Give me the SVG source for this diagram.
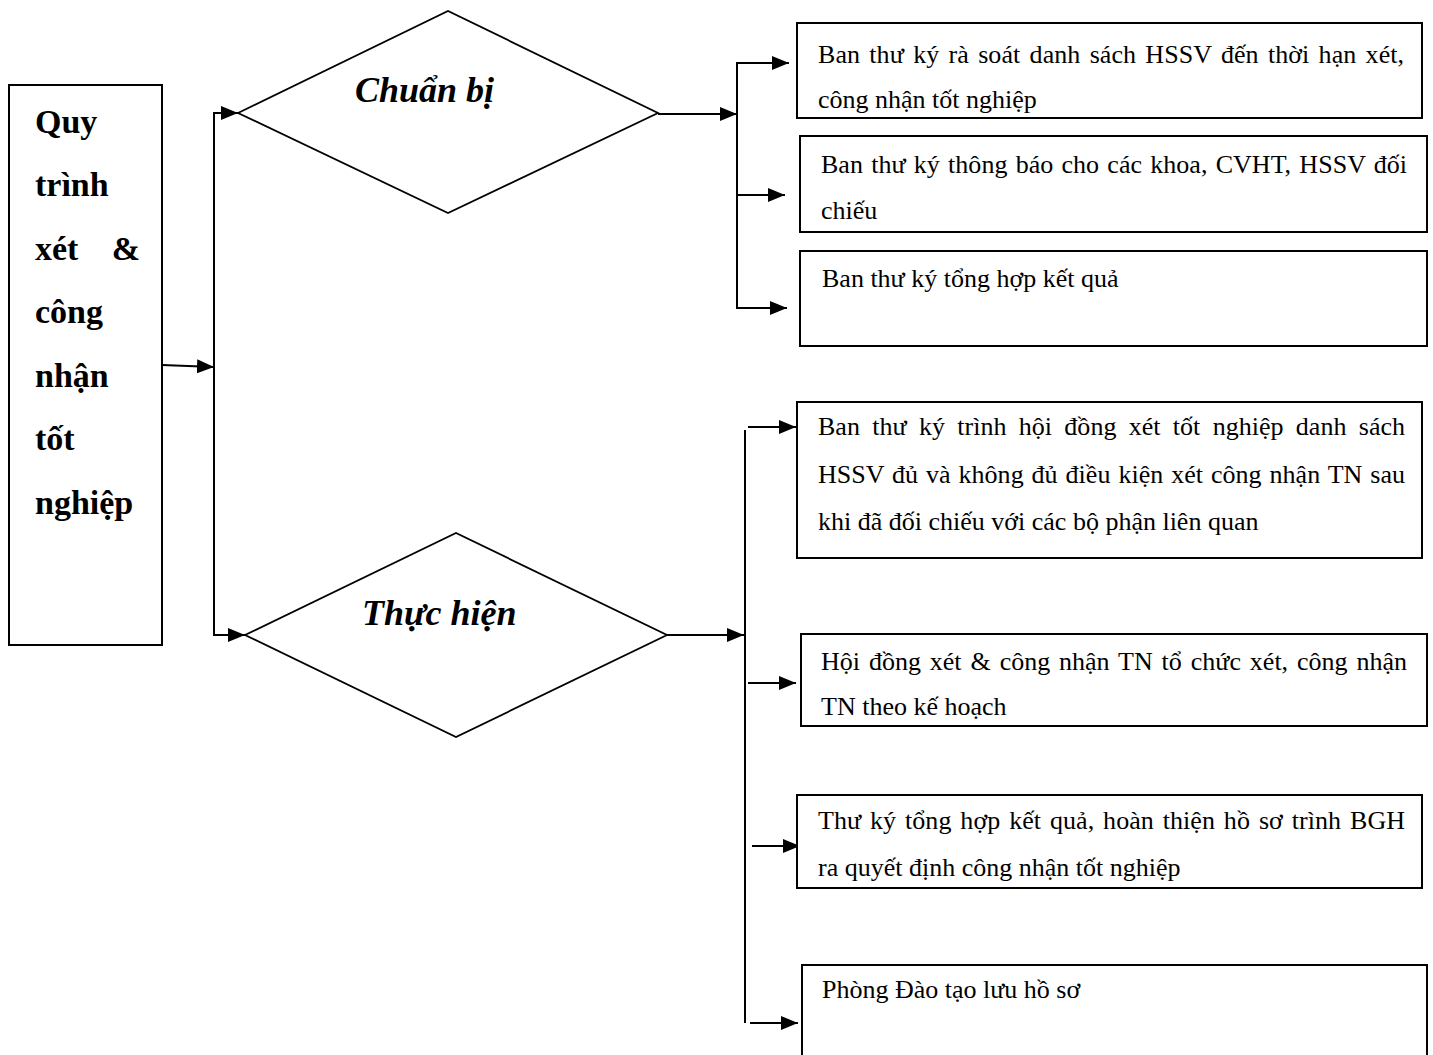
<svg xmlns="http://www.w3.org/2000/svg" width="1433" height="1055" viewBox="0 0 1433 1055">
<style>
.box{fill:#fff;stroke:#000;stroke-width:2}
.dia{fill:#fff;stroke:#000;stroke-width:1.8}
.t{font-family:"Liberation Serif","Times New Roman",serif;font-size:26px;fill:#000}
.lb{font-family:"Liberation Serif","Times New Roman",serif;font-size:34px;font-weight:bold;fill:#000}
.dt{font-family:"Liberation Serif","Times New Roman",serif;font-size:36px;font-weight:bold;font-style:italic;fill:#000}
.c{fill:none;stroke:#000;stroke-width:2}
</style>
<defs>
<marker id="ah" markerUnits="userSpaceOnUse" markerWidth="17" markerHeight="14" refX="17" refY="7" orient="auto">
<path d="M0,0 L17,7 L0,14 z" fill="#000"/>
</marker>
<clipPath id="cp1"><rect x="798" y="24" width="623" height="93"/></clipPath>
<clipPath id="cp6"><rect x="798" y="796" width="623" height="91"/></clipPath>
</defs>

<g id="connectors">
<path class="c" d="M162,365 L214,367" marker-end="url(#ah)"/>
<path class="c" d="M214,113 L214,635 L245,635" marker-end="url(#ah)"/>
<path class="c" d="M213,113 L238,113" marker-end="url(#ah)"/>
<path class="c" d="M658,114 L737,114" marker-end="url(#ah)"/>
<path class="c" d="M737,63 L737,308"/>
<path class="c" d="M736,63 L789,63" marker-end="url(#ah)"/>
<path class="c" d="M737,195 L785,195" marker-end="url(#ah)"/>
<path class="c" d="M736,308 L787,308" marker-end="url(#ah)"/>
<path class="c" d="M667,635 L744,635" marker-end="url(#ah)"/>
<path class="c" d="M745,430 L745,1023"/>
<path class="c" d="M748,427 L796,427" marker-end="url(#ah)"/>
<path class="c" d="M748,683 L796,683" marker-end="url(#ah)"/>
<path class="c" d="M752,846 L800,846" marker-end="url(#ah)"/>
<path class="c" d="M750,1023 L798,1023" marker-end="url(#ah)"/>
</g>

<g id="n-main">
<rect class="box" x="9" y="85" width="153" height="560"/>
<text class="lb" x="35" y="133">Quy</text>
<text class="lb" x="35" y="196">trình</text>
<text class="lb" y="260"><tspan x="35">xét</tspan><tspan x="140" text-anchor="end">&amp;</tspan></text>
<text class="lb" x="35" y="323">công</text>
<text class="lb" x="35" y="387">nhận</text>
<text class="lb" x="35" y="450">tốt</text>
<text class="lb" x="35" y="514">nghiệp</text>
</g>

<g id="n-chuanbi">
<polygon class="dia" points="238,113 448,11 658,113 448,213"/>
<text class="dt" x="355" y="102">Chuẩn bị</text>
</g>

<g id="n-thuchien">
<polygon class="dia" points="245,635 456,533 667,635 456,737"/>
<text class="dt" x="362" y="625">Thực hiện</text>
</g>

<g id="n-b1">
<rect class="box" x="797" y="23" width="625" height="95"/>
<g clip-path="url(#cp1)">
<text class="t" x="818" y="63" word-spacing="2.8" textLength="586" lengthAdjust="spacing">Ban thư ký rà soát danh sách HSSV đến thời hạn xét,</text>
<text class="t" x="818" y="108">công nhận tốt nghiệp</text>
</g>
</g>

<g id="n-b2">
<rect class="box" x="800" y="136" width="627" height="96"/>
<text class="t" x="821" y="173" word-spacing="1.7" textLength="586" lengthAdjust="spacing">Ban thư ký thông báo cho các khoa, CVHT, HSSV đối</text>
<text class="t" x="821" y="219">chiếu</text>
</g>

<g id="n-b3">
<rect class="box" x="800" y="251" width="627" height="95"/>
<text class="t" x="822" y="287">Ban thư ký tổng hợp kết quả</text>
</g>

<g id="n-b4">
<rect class="box" x="797" y="402" width="625" height="156"/>
<text class="t" x="818" y="435" word-spacing="5.8" textLength="587" lengthAdjust="spacing">Ban thư ký trình hội đồng xét tốt nghiệp danh sách</text>
<text class="t" x="818" y="483" word-spacing="1.45" textLength="587" lengthAdjust="spacing">HSSV đủ và không đủ điều kiện xét công nhận TN sau</text>
<text class="t" x="818" y="530">khi đã đối chiếu với các bộ phận liên quan</text>
</g>

<g id="n-b5">
<rect class="box" x="801" y="634" width="626" height="92"/>
<text class="t" x="821" y="670" word-spacing="2.4" textLength="586" lengthAdjust="spacing">Hội đồng xét &amp; công nhận TN tổ chức xét, công nhận</text>
<text class="t" x="821" y="715">TN theo kế hoạch</text>
</g>

<g id="n-b6">
<rect class="box" x="797" y="795" width="625" height="93"/>
<g clip-path="url(#cp6)">
<text class="t" x="818" y="829" word-spacing="2.4" textLength="587" lengthAdjust="spacing">Thư ký tổng hợp kết quả, hoàn thiện hồ sơ trình BGH</text>
<text class="t" x="818" y="876">ra quyết định công nhận tốt nghiệp</text>
</g>
</g>

<g id="n-b7">
<rect class="box" x="802" y="965" width="625" height="110"/>
<text class="t" x="822" y="998">Phòng Đào tạo lưu hồ sơ</text>
</g>
</svg>
